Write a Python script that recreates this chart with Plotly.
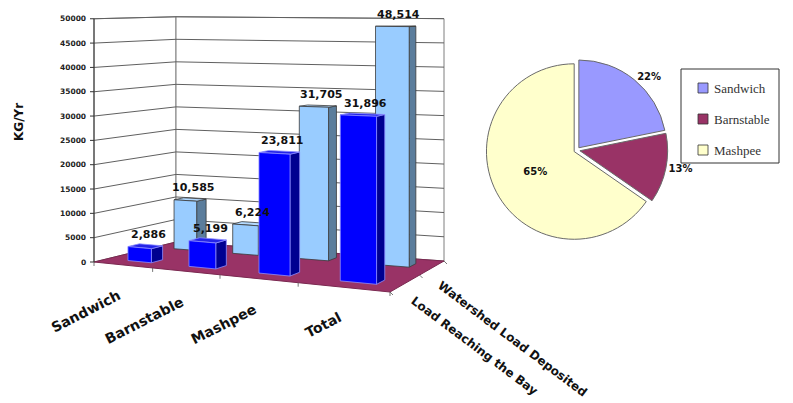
import numpy as np
import plotly.graph_objects as go

# ---- data -----------------------------------------------------------------
categories = ["Sandwich", "Barnstable", "Mashpee", "Total"]
series_names = ["Load Reaching the Bay", "Watershed Load Deposited"]
load_reaching_bay = [2886, 5199, 23811, 31896]
watershed_load = [10585, 6224, 31705, 48514]
value_ticks = [0, 5000, 10000, 15000, 20000, 25000, 30000, 35000, 40000, 45000, 50000]
pie_towns = ["Sandwich", "Barnstable", "Mashpee"]
pie_values = [10585, 6224, 31705]
pie_colors = ["#9999FF", "#993366", "#FFFFCC"]

series_values = [load_reaching_bay, watershed_load]
Z_MAX = value_ticks[-1]

# ---- perspective for the 3-D column chart ---------------------------------
# floor of the chart box in page pixels: front-left, front-right, back-right, back-left
FLOOR = [(94, 262), (390, 292), (444, 261), (176, 242)]
HORIZON_Y = -8          # screen row of the horizon
EYE_HEIGHT = 55500      # camera height expressed in value units


def homography(quad):
    src = [(0, 0), (1, 0), (1, 1), (0, 1)]
    A, b = [], []
    for (u, v), (x, y) in zip(src, quad):
        A.append([u, v, 1, 0, 0, 0, -u * x, -v * x]); b.append(x)
        A.append([0, 0, 0, u, v, 1, -u * y, -v * y]); b.append(y)
    h = np.linalg.solve(np.array(A, float), np.array(b, float))
    return np.append(h, 1.0).reshape(3, 3)


HM = homography(FLOOR)


def proj(u, v, z=0.0):
    X, Y, W = HM @ np.array([u, v, 1.0])
    x, y = X / W, Y / W
    return x, y - (y - HORIZON_Y) * z / EYE_HEIGHT


n_cat, n_ser = len(categories), len(series_names)


def cat_u(i, f):
    return (i + f) / n_cat


def ser_v(s, f):
    return (s + f) / n_ser


# column footprint inside its category / series slot
COL_U = (0.36, 0.76)
COL_V = {0: (0.30, 0.56), 1: (0.42, 0.68)}

fig = go.Figure()


def poly(pts, fill, line, width=1.0):
    xs = [p[0] for p in pts] + [pts[0][0]]
    ys = [p[1] for p in pts] + [pts[0][1]]
    fig.add_trace(go.Scatter(x=xs, y=ys, mode="lines", fill="toself",
                             fillcolor=fill, line=dict(color=line, width=width),
                             hoverinfo="skip", showlegend=False))


def polyline(pts, color, width=1.0):
    xs, ys = [], []
    for seg in pts:
        if seg is None:
            xs.append(None); ys.append(None)
        else:
            xs.append(seg[0]); ys.append(seg[1])
    fig.add_trace(go.Scatter(x=xs, y=ys, mode="lines",
                             line=dict(color=color, width=width),
                             hoverinfo="skip", showlegend=False))


# walls
poly([proj(0, 0), proj(0, 1), proj(0, 1, Z_MAX), proj(0, 0, Z_MAX)], "white", "#7f7f7f", 1)
poly([proj(0, 1), proj(1, 1), proj(1, 1, Z_MAX), proj(0, 1, Z_MAX)], "white", "#7f7f7f", 1)

# gridlines on both walls
grid = []
for z in value_ticks[1:]:
    grid += [proj(0, 0, z), proj(0, 1, z), proj(1, 1, z), None]
polyline(grid, "#606060", 1)

# floor
poly([proj(0, 0), proj(1, 0), proj(1, 1), proj(0, 1)], "#993366", "#7a2850", 1)

# columns: back row first, then front row
styles = {
    0: dict(front="#0000FF", top="#2424E8", side="#000090", line="#8C8CFF"),
    1: dict(front="#99CCFF", top="#B4DAFF", side="#5B7D9C", line="#3a3a3a"),
}
for s in reversed(range(n_ser)):
    st = styles[s]
    v0, v1 = ser_v(s, COL_V[s][0]), ser_v(s, COL_V[s][1])
    for i in range(n_cat):
        z = series_values[s][i]
        u0, u1 = cat_u(i, COL_U[0]), cat_u(i, COL_U[1])
        poly([proj(u1, v0), proj(u1, v1), proj(u1, v1, z), proj(u1, v0, z)], st["side"], st["line"], 0.8)
        poly([proj(u0, v0, z), proj(u1, v0, z), proj(u1, v1, z), proj(u0, v1, z)], st["top"], st["line"], 0.8)
        poly([proj(u0, v0), proj(u1, v0), proj(u1, v0, z), proj(u0, v0, z)], st["front"], st["line"], 0.8)

# value axis with tick marks
ax_pts = [proj(0, 0, 0), proj(0, 0, Z_MAX), None]
for z in value_ticks:
    x, y = proj(0, 0, z)
    ax_pts += [(x - 4, y), (x, y), None]
polyline(ax_pts, "#333333", 1)

# small tick marks along the category and series edges of the floor
tk = []
for i in range(n_cat + 1):
    x, y = proj(i / n_cat, 0)
    tk += [(x, y), (x, y + 4), None]
for s in range(n_ser + 1):
    x, y = proj(1, s / n_ser)
    tk += [(x, y), (x + 3, y + 3), None]
polyline(tk, "#555555", 0.8)

annotations = []
bold = "DejaVu Sans"

# value tick labels
for z in value_ticks:
    x, y = proj(0, 0, z)
    annotations.append(dict(x=x - 6, y=y, xref="x", yref="y", text=f"<b>{z}</b>",
                            showarrow=False, xanchor="right", yanchor="middle",
                            font=dict(family=bold, size=7.5, color="#222")))

# value labels above every column
for s in range(n_ser):
    vc = ser_v(s, sum(COL_V[s]) / 2)
    for i in range(n_cat):
        z = series_values[s][i]
        x, y = proj(cat_u(i, sum(COL_U) / 2), vc, z)
        annotations.append(dict(x=x + 3, y=y - 3, xref="x", yref="y",
                                text=f"<b>{z:,}</b>", showarrow=False,
                                xanchor="center", yanchor="bottom",
                                font=dict(family=bold, size=11, color="#111")))

# category labels along the front edge
for i, name in enumerate(categories):
    x, y = proj(cat_u(i, 0.5), 0)
    annotations.append(dict(x=x + 4, y=y + 19, xref="x", yref="y", text=f"<b>{name}</b>",
                            showarrow=False, xanchor="right", yanchor="top", textangle=-27,
                            font=dict(family=bold, size=14, color="#111")))

# series labels along the right edge
for s, name in enumerate(series_names):
    x, y = proj(1, ser_v(s, 0.5))
    annotations.append(dict(x=x, y=y + 8, xref="x", yref="y", text=f"<b>{name}</b>",
                            showarrow=False, xanchor="left", yanchor="top", textangle=37,
                            font=dict(family=bold, size=12, color="#111")))

# value axis title
annotations.append(dict(x=19, y=122, xref="x", yref="y", text="<b>KG/Yr</b>",
                        showarrow=False, textangle=-90,
                        font=dict(family=bold, size=12, color="#111")))

# ---- pie of watershed load by town ----------------------------------------
fig.add_trace(go.Pie(
    labels=pie_towns, values=pie_values, sort=False, direction="clockwise", rotation=0,
    pull=[0.035, 0.035, 0.035],
    marker=dict(colors=pie_colors, line=dict(color="#6a6a6a", width=1)),
    texttemplate="<b>%{percent:.0%}</b>", textposition=["outside", "outside", "inside"],
    insidetextorientation="horizontal",
    textfont=dict(family=bold, size=10, color="#111"),
    domain=dict(x=[0.613, 0.842], y=[0.4, 0.855]),
    showlegend=False, hoverinfo="skip"))

# legend box for the pie
shapes = [dict(type="rect", xref="x", yref="y", x0=681, x1=779, y0=69, y1=163,
               line=dict(color="#333", width=1), fillcolor="white")]
for k, (name, col) in enumerate(zip(pie_towns, pie_colors)):
    yc = 88 + k * 31
    shapes.append(dict(type="rect", xref="x", yref="y", x0=698, x1=708, y0=yc - 5, y1=yc + 5,
                       line=dict(color="#333", width=0.8), fillcolor=col))
    annotations.append(dict(x=712, y=yc, xref="x", yref="y", text=name, showarrow=False,
                            xanchor="left", yanchor="middle",
                            font=dict(family="Liberation Serif", size=13, color="#333")))

fig.update_layout(
    width=793, height=403, margin=dict(l=0, r=0, t=0, b=0),
    paper_bgcolor="white", plot_bgcolor="white",
    xaxis=dict(range=[0, 793], visible=False, domain=[0, 1], fixedrange=True),
    yaxis=dict(range=[403, 0], visible=False, domain=[0, 1], fixedrange=True),
    annotations=annotations, shapes=shapes, showlegend=False,
)

fig.write_html("out.html")
